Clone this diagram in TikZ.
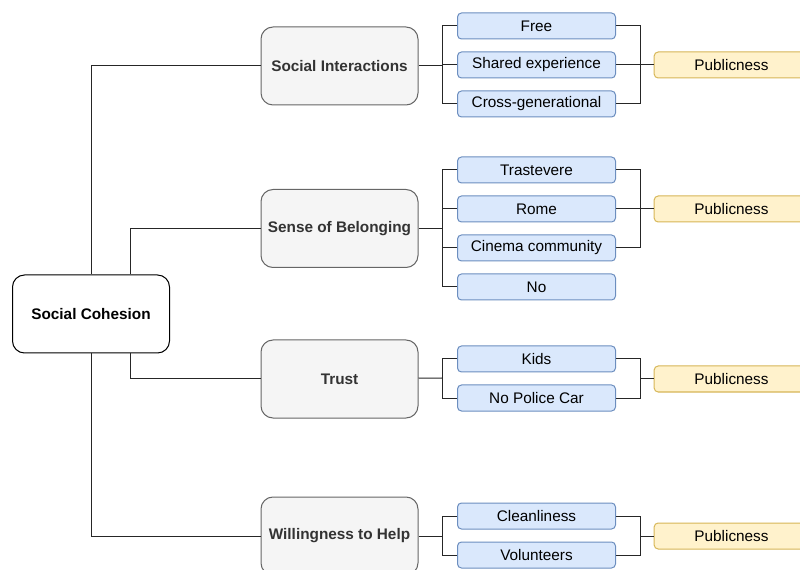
\documentclass[tikz,border=0pt]{standalone}
\usepackage{fontspec}
\setmainfont{Liberation Sans}
\usepackage{tikz}
\usetikzlibrary{calc}
\definecolor{catfill}{HTML}{F5F5F5}
\definecolor{catline}{HTML}{666666}
\definecolor{cattext}{HTML}{333333}
\definecolor{leaffill}{HTML}{DAE8FC}
\definecolor{leafline}{HTML}{6C8EBF}
\definecolor{pubfill}{HTML}{FFF2CC}
\definecolor{publine}{HTML}{D6B656}

\begin{document}
\begin{tikzpicture}[x=0.75pt, y=-0.75pt, node distance=29.25pt,
    every node/.style={font=\fontsize{11.5}{13}\selectfont, inner sep=0pt},
    root/.style={draw=black, line width=0.75pt, rounded corners=9pt, fill=white, minimum width=117.75pt, minimum height=58.5pt, font=\fontsize{11.5}{13}\selectfont\bfseries},
    cat/.style={draw=catline, line width=0.75pt, rounded corners=9pt, fill=catfill, text=cattext, minimum width=117.75pt, minimum height=58.5pt, font=\fontsize{11.5}{13}\selectfont\bfseries},
    leaf/.style={draw=leafline, line width=0.75pt, rounded corners=3pt, fill=leaffill, minimum width=118.5pt, minimum height=19.5pt},
    pub/.style={draw=publine, line width=0.75pt, rounded corners=3pt, fill=pubfill, minimum width=116pt, minimum height=19.5pt},
    link/.style={draw=black!85, line width=0.75pt}]
    \useasboundingbox (0,0) rectangle (800,570);
    \begin{scope}
    \clip (0,0) rectangle (800,570);

    \node[root] (coh) at (91,314) {Social Cohesion};

    \node[cat] (inter) at (339.5,66) {Social Interactions};
    \node[cat] (belong) at (339.5,228.5) {Sense of Belonging};
    \node[cat] (trust) at (339.5,379) {Trust};
    \node[cat] (help) at (339.5,536) {Willingness to Help};

    \node[leaf] (free) at (536.5,26) {Free};
    \node[leaf, below of=free] (shared) {Shared experience};
    \node[leaf, below of=shared] (cross) {Cross-generational};

    \node[leaf] (trast) at (536.5,170) {Trastevere};
    \node[leaf, below of=trast] (rome) {Rome};
    \node[leaf, below of=rome] (cinema) {Cinema community};
    \node[leaf, below of=cinema] (no) {No};

    \node[leaf] (kids) at (536.5,359) {Kids};
    \node[leaf, below of=kids] (police) {No Police Car};

    \node[leaf] (clean) at (536.5,516) {Cleanliness};
    \node[leaf, below of=clean] (volunt) {Volunteers};

    \node[pub] (pubinter) at (731.5,65) {Publicness};
    \node[pub] (pubbelong) at (731.5,209) {Publicness};
    \node[pub] (pubtrust) at (731.5,379) {Publicness};
    \node[pub] (pubhelp) at (731.5,536) {Publicness};

    % root to categories
    \draw[link] (coh.north) |- (inter.west);
    \draw[link] (coh.south) |- (help.west);
    \draw[link] ($(coh.north)+(39,0)$) |- (belong.west);
    \draw[link] ($(coh.south)+(39,0)$) |- (trust.west);

    % categories to leaves
    \coordinate (jinter) at (442,66);
    \coordinate (jbelong) at (442,228.5);
    \coordinate (jtrust) at (442,378);
    \coordinate (jhelp) at (442,536);
    \draw[link] (inter) -- (jinter);
    \draw[link] (belong) -- (jbelong);
    \draw[link] (trust) -- (jtrust);
    \draw[link] (help) -- (jhelp);
    \foreach \n in {free,shared,cross} \draw[link] (jinter) |- (\n.west);
    \foreach \n in {trast,rome,cinema,no} \draw[link] (jbelong) |- (\n.west);
    \foreach \n in {kids,police} \draw[link] (jtrust) |- (\n.west);
    \foreach \n in {clean,volunt} \draw[link] (jhelp) |- (\n.west);

    % leaves to publicness
    \coordinate (kinter) at (640,65);
    \coordinate (kbelong) at (640,209);
    \coordinate (ktrust) at (640,379);
    \coordinate (khelp) at (640,536);
    \foreach \n in {free,shared,cross} \draw[link] (\n.east) -| (kinter);
    \foreach \n in {trast,rome,cinema} \draw[link] (\n.east) -| (kbelong);
    \foreach \n in {kids,police} \draw[link] (\n.east) -| (ktrust);
    \foreach \n in {clean,volunt} \draw[link] (\n.east) -| (khelp);
    \draw[link] (kinter) -- (pubinter);
    \draw[link] (kbelong) -- (pubbelong);
    \draw[link] (ktrust) -- (pubtrust);
    \draw[link] (khelp) -- (pubhelp);
    \end{scope}
\end{tikzpicture}
\end{document}
